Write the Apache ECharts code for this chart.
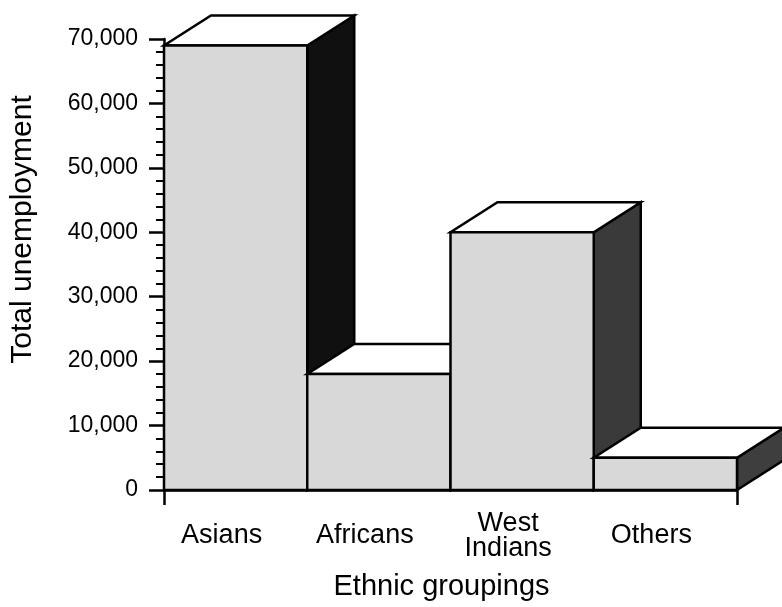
<!DOCTYPE html>
<html>
<head>
<meta charset="utf-8">
<script src="https://cdn.jsdelivr.net/npm/echarts@6/dist/echarts.min.js"></script>
<style>
  html, body { margin: 0; padding: 0; background: #fff; }
  #chart { width: 782px; height: 607px; }
</style>
</head>
<body>
<div id="chart"></div>
<script>
// data
var groups = ["Asians", "Africans", "West\nIndians", "Others"];
var unemployed = [69000, 18000, 40000, 5000];
var yTicks = [0, 10000, 20000, 30000, 40000, 50000, 60000, 70000];

// look of the boxes
var sideColors = ["#101010", "#2a2a2a", "#3a3a3a", "#3e3e3e"];
var DEPTH_X = 47;
var DEPTH_Y = -30;
var FONT = "'Liberation Sans', Arial, Helvetica, sans-serif";

var chart = echarts.init(document.getElementById("chart"));

var boxData = [];
for (let i = 0; i < groups.length; i++) {
  boxData.push([i, unemployed[i]]);
}

function renderBox(params, api) {
  var idx = api.value(0);
  var base = api.coord([idx, 0]);
  var top = api.coord([idx, api.value(1)]);
  var bw = api.size([1, 0])[0];
  var x0 = base[0] - bw / 2;
  var x1 = base[0] + bw / 2;
  var yT = top[1];
  var yB = base[1];
  var line = { stroke: "#000", lineWidth: 2.5, lineJoin: "miter" };
  return {
    type: "group",
    children: [
      {
        type: "polygon",
        shape: { points: [[x1, yT], [x1 + DEPTH_X, yT + DEPTH_Y], [x1 + DEPTH_X, yB + DEPTH_Y], [x1, yB]] },
        style: Object.assign({ fill: sideColors[idx] }, line)
      },
      {
        type: "polygon",
        shape: { points: [[x0, yT], [x1, yT], [x1 + DEPTH_X, yT + DEPTH_Y], [x0 + DEPTH_X, yT + DEPTH_Y]] },
        style: Object.assign({ fill: "#ffffff" }, line)
      },
      {
        type: "rect",
        shape: { x: x0, y: yT, width: bw, height: yB - yT },
        style: Object.assign({ fill: "#d8d8d8" }, line)
      }
    ]
  };
}

var option = {
  backgroundColor: "#ffffff",
  animation: false,
  grid: { left: 163, right: 45, top: 39, bottom: 117 },
  xAxis: {
    type: "category",
    data: groups,
    name: "Ethnic groupings",
    nameLocation: "middle",
    nameGap: 82,
    nameTextStyle: { fontFamily: FONT, fontSize: 29, color: "#000", padding: [0, 18, 0, 0] },
    axisLine: { lineStyle: { color: "#000", width: 2.5 } },
    axisTick: {
      show: true,
      inside: false,
      length: 15,
      interval: function (i) { return i === 0; },
      lineStyle: { color: "#000", width: 2.5 }
    },
    axisLabel: {
      interval: 0,
      margin: 46,
      verticalAlign: "middle",
      padding: [0, 28, 0, 0],
      fontFamily: FONT,
      fontSize: 27,
      lineHeight: 25,
      color: "#000"
    },
    splitLine: { show: false }
  },
  yAxis: {
    type: "value",
    min: yTicks[0],
    max: yTicks[yTicks.length - 1],
    interval: yTicks[1] - yTicks[0],
    name: "Total unemployment",
    nameLocation: "middle",
    nameGap: 126,
    nameTextStyle: { fontFamily: FONT, fontSize: 30, color: "#000", padding: [0, 0, 0, 70] },
    axisLine: { show: true, lineStyle: { color: "#000", width: 2.5 } },
    axisTick: { show: true, length: 15, lineStyle: { color: "#000", width: 2.5 } },
    minorTick: { show: true, splitNumber: 5, length: 8, lineStyle: { color: "#000", width: 2 } },
    axisLabel: {
      margin: 26,
      fontFamily: FONT,
      fontSize: 23,
      color: "#000",
      formatter: function (v) { return v.toLocaleString("en-US"); }
    },
    splitLine: { show: false }
  },
  series: [
    {
      type: "custom",
      renderItem: renderBox,
      data: boxData,
      encode: { x: 0, y: 1 },
      clip: false
    }
  ]
};

chart.setOption(option);
</script>
</body>
</html>
